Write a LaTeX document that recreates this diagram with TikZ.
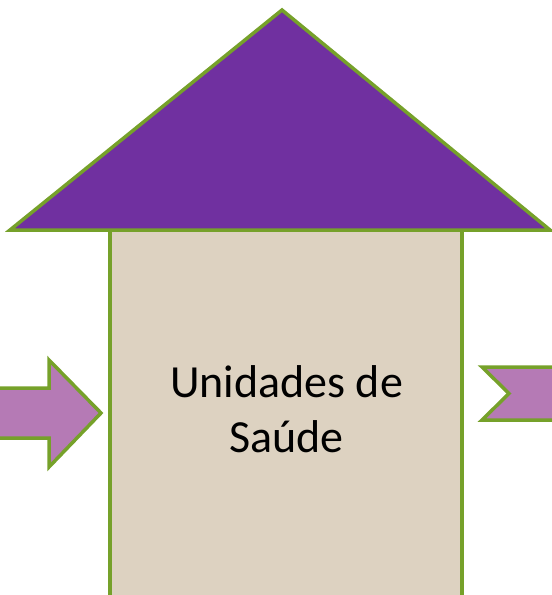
\documentclass[tikz,border=0pt]{standalone}
\usepackage{fontspec}
\setmainfont{Carlito}
\definecolor{edgegreen}{HTML}{76A12A}
\definecolor{roofpurple}{HTML}{7030A0}
\definecolor{wallbeige}{HTML}{DDD2C1}
\definecolor{arrowpink}{HTML}{B57AB5}
\tikzset{
  shapeline/.style={draw=edgegreen, line width=3.5pt, line join=miter},
}
\begin{document}
\begin{tikzpicture}[x=1pt,y=-1pt]
\useasboundingbox (0,0) rectangle (552,595);
\clip (0,0) rectangle (552,595);
% wall
\draw[shapeline, fill=wallbeige] (110,230) rectangle (462,605);
% roof
\draw[shapeline, fill=roofpurple] (282,10) -- (550,230) -- (10,230) -- cycle;
% left arrow
\draw[shapeline, fill=arrowpink] (-5,388) -- (49,388) -- (49,360) -- (101,413) -- (49,467) -- (49,438) -- (-5,438) -- cycle;
% right chevron
\draw[shapeline, fill=arrowpink] (482,367) -- (562,367) -- (562,420) -- (482,420) -- (509,393.5) -- cycle;
% label
\node[align=center, font=\fontsize{46}{55}\selectfont, inner sep=0pt, anchor=base] (label) at (286.5,452) {Unidades de\\Saúde};
\end{tikzpicture}
\end{document}
